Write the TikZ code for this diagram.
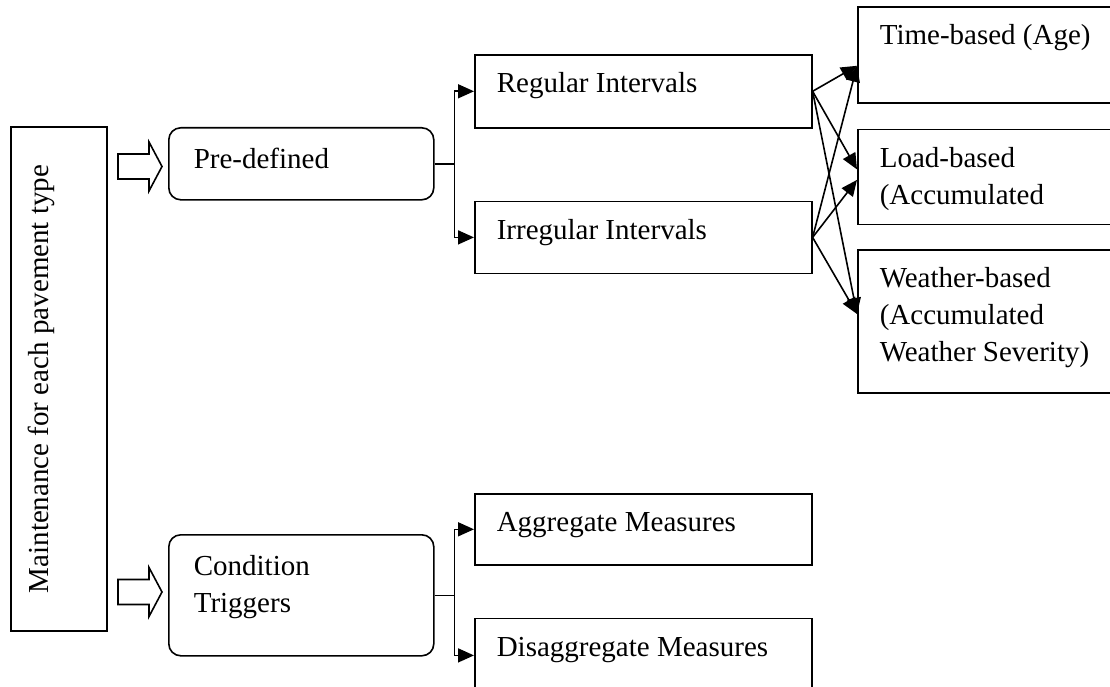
\documentclass[tikz,border=0pt]{standalone}
\usepackage{fontspec}
\setmainfont{Liberation Serif}
\usetikzlibrary{arrows.meta,positioning}
\newcommand{\boxtext}[3]{\parbox[t][#1][t]{#2}{\strut #3}}
\newcommand{\blockarrow}[1]{\draw[blockarr] (#1) ++(0,-12.5) -- ++(31,0) -- ++(0,-12) -- ++(13,24.5) -- ++(-13,24.5) -- ++(0,-12) -- ++(-31,0) -- cycle;}
\tikzset{
    %Define standard arrow tip
    >={Triangle[length=16pt,width=14pt]},
    %Define style for boxes
    sqbox/.style={
           rectangle,
           draw=black, line width=1.6pt,
           inner xsep=22pt, inner ysep=12pt,
           anchor=north west,
           font=\fontsize{29}{37}\selectfont},
    rdbox/.style={
           sqbox,
           rounded corners=12pt,
           inner xsep=25pt, inner ysep=15pt},
    % Define arrow style
    pil/.style={->, line width=1.6pt},
    blockarr/.style={draw=black, line width=1.6pt, fill=white}
}
\begin{document}
\begin{tikzpicture}[x=1pt, y=-1pt]
\useasboundingbox (0,0) rectangle (1110,687);
\clip (0,0) rectangle (1110,687);

\node[sqbox, rotate=90, anchor=center](main) at (59,379){\parbox[t][72pt][t]{460pt}{\centering\strut Maintenance for each pavement type}};

\node[rdbox](pre) at (168,127){\boxtext{42pt}{215pt}{Pre-defined}};
\node[rdbox](cond) at (168,534){\boxtext{91pt}{215pt}{Condition\\Triggers}};

\node[sqbox](reg) at (474,54){\boxtext{49pt}{293pt}{Regular Intervals}};
\node[sqbox, below=72pt of reg.south west, anchor=north west](irr){\boxtext{48pt}{293pt}{Irregular Intervals}};
\node[sqbox](agg) at (474,493){\boxtext{47pt}{293pt}{Aggregate Measures}};
\node[sqbox, below=52pt of agg.south west, anchor=north west](dis){\boxtext{50pt}{293pt}{Disaggregate Measures}};

\node[sqbox](time) at (857,6){\boxtext{72pt}{256pt}{Time-based (Age)}};
\node[sqbox, below=25pt of time.south west, anchor=north west](load){\boxtext{71pt}{256pt}{Load-based\\(Accumulated}};
\node[sqbox, below=24pt of load.south west, anchor=north west](wea){\boxtext{119pt}{256pt}{Weather-based\\(Accumulated\\Weather Severity)}};

% block arrows
\coordinate (a1) at (118,166.5);
\coordinate (a2) at (118,592);
\blockarrow{a1}
\blockarrow{a2}

\draw[pil] (pre.east) -- ++(20,0) |- (reg.west);
\draw[pil] (pre.east) -- ++(20,0) |- (irr.west);
\draw[pil] (cond.east) -- ++(20,0) |- (agg.west);
\draw[pil] (cond.east) -- ++(20,0) |- (dis.west);

\foreach \s in {reg,irr}{
  \draw[pil] (\s.east) -- ([yshift=-11pt]time.west);
  \draw[pil] (\s.east) -- ([yshift=7.5pt]wea.west);
}
\draw[pil] (reg.east) -- ([yshift=7.5pt]load.west);
\draw[pil] (irr.east) -- ([yshift=-3pt]load.west);
\end{tikzpicture}
\end{document}
